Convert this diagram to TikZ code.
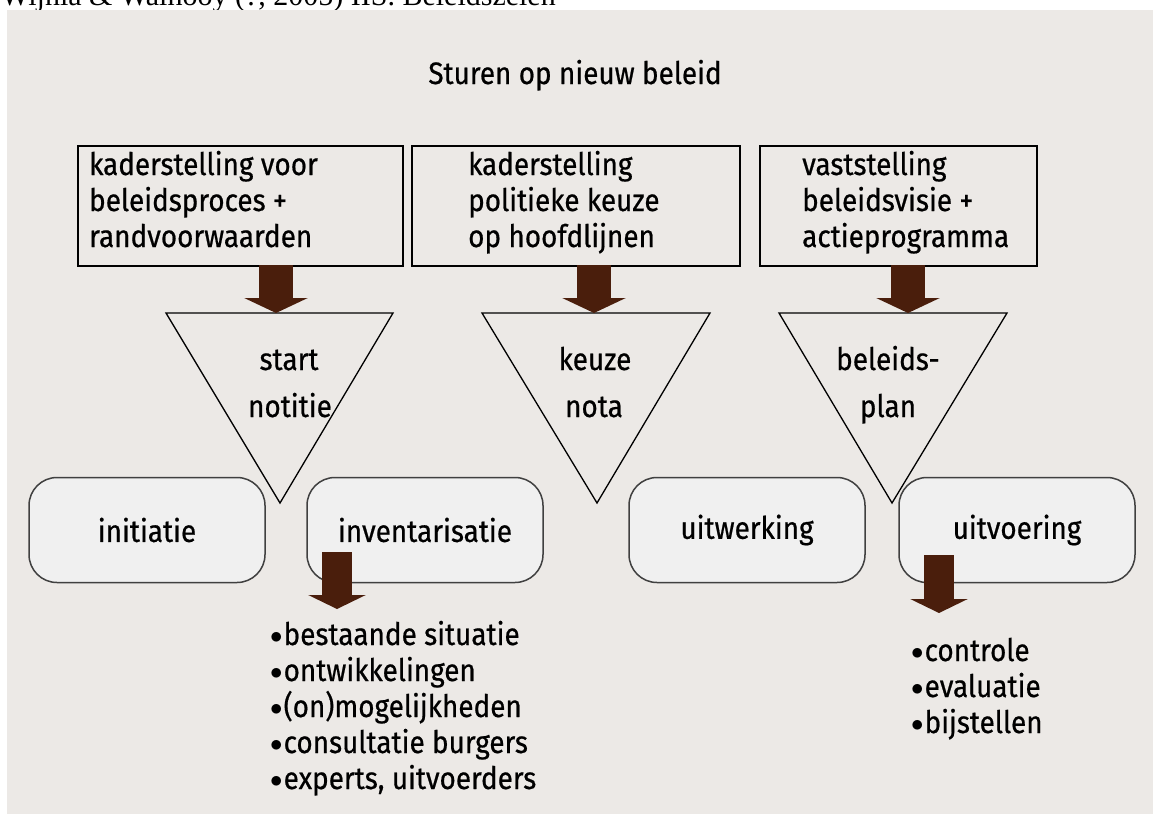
\documentclass[tikz,border=0pt]{standalone}
\usepackage{fontspec}
\setmainfont{Fira Sans}[FakeStretch=0.9, FakeBold=0.6]
\newfontfamily\headserif{Liberation Serif}
\usetikzlibrary{arrows.meta}

\definecolor{panelgray}{RGB}{236,233,230}
\definecolor{stagegray}{RGB}{240,240,240}
\definecolor{dropbrown}{RGB}{74,30,12}

\newcommand{\listdot}{\raisebox{2pt}{\fontsize{24}{24}\selectfont$\bullet$}\hspace{1pt}}

\begin{document}
\begin{tikzpicture}[x=1pt, y=-1pt,
    frame/.style={draw, line width=1.6pt, anchor=north west, inner sep=0},
    boxtext/.style={anchor=base west, inner sep=0, font=\fontsize{31}{36}\selectfont},
    funnel/.style={draw, line width=1.3pt},
    stage/.style={draw=black!75, line width=1.5pt, fill=stagegray, rounded corners=28pt,
        minimum width=236pt, minimum height=105pt, font=\fontsize{31}{36}\selectfont},
    bigarrow/.style={dropbrown, line width=34pt, -{Triangle[width=63pt,length=15pt]}},
    smallarrow/.style={dropbrown, line width=30pt, -{Triangle[width=57pt,length=14pt]}}]

    \useasboundingbox (0,0) rectangle (1153,814);

    % Source line (cut off by the panel)
    \node[anchor=base west, inner sep=0, font=\headserif\fontsize{30}{30}\selectfont] (source)
        at (1,5) {Wijnia \& Walhooy (?, 2005) IIS. Beleidszelen};
    \fill[panelgray] (7,10) rectangle (1153,814);

    % Title
    \node[anchor=base, inner sep=0, font=\fontsize{31}{36}\selectfont] (title) at (575,84) {Sturen op nieuw beleid};

    % Top boxes
    \node[frame, minimum width=325pt, minimum height=120pt] (frame1) at (77,145) {};
    \node[frame, minimum width=328pt, minimum height=120pt] (frame2) at (411,145) {};
    \node[frame, minimum width=277pt, minimum height=120pt] (frame3) at (759,145) {};
    \foreach \txt [count=\j] in {kaderstelling voor, beleidsproces +, randvoorwaarden}
        \node[boxtext] (frame1-\j) at (89, {139+36*\j}) {\txt};
    \foreach \txt [count=\j] in {kaderstelling, politieke keuze, op hoofdlijnen}
        \node[boxtext] (frame2-\j) at (468, {139+36*\j}) {\txt};
    \foreach \txt [count=\j] in {vaststelling, beleidsvisie +, actieprogramma}
        \node[boxtext] (frame3-\j) at (802, {139+36*\j}) {\txt};

    % Funnels
    \foreach \l/\r/\a [count=\i] in {166/393/280, 482/710/597, 779/1007/892}{
        \draw[funnel] (\l,313) coordinate (tri\i-l) -- (\r,313) -- (\a,503) coordinate (tri\i-apex) -- cycle;
    }
    \node[anchor=base, inner sep=0, font=\fontsize{31}{36}\selectfont] (start) at (289,370) {start};
    \node[anchor=base, inner sep=0, font=\fontsize{31}{36}\selectfont] (notitie) at (290,417) {notitie};
    \node[anchor=base, inner sep=0, font=\fontsize{31}{36}\selectfont] (keuze) at (595,370) {keuze};
    \node[anchor=base, inner sep=0, font=\fontsize{31}{36}\selectfont] (nota) at (594,417) {nota};
    \node[anchor=base, inner sep=0, font=\fontsize{31}{36}\selectfont] (beleids) at (888,370) {beleids-};
    \node[anchor=base, inner sep=0, font=\fontsize{31}{36}\selectfont] (plan) at (888,417) {plan};

    % Drops from boxes into funnels
    \foreach \x [count=\i] in {276, 594, 908}{
        \coordinate (drop\i) at (\x,265);
        \draw[bigarrow] (drop\i) -- (drop\i |- tri\i-l);
    }

    % Stages
    \foreach \name/\x in {initiatie/147, inventarisatie/425, uitwerking/747, uitvoering/1017}
        \node[stage] (\name) at (\x,530) {\name};

    % Lists under stages
    \coordinate (inv-drop) at (337,552);
    \coordinate (inv-end) at (337,609);
    \draw[smallarrow] (inv-drop) -- (inv-end);
    \coordinate (uitv-drop) at (939,555);
    \coordinate (uitv-end) at (939,613);
    \draw[smallarrow] (uitv-drop) -- (uitv-end);

    \foreach \txt [count=\j] in {bestaande situatie, ontwikkelingen, (on)mogelijkheden, consultatie burgers, {experts, uitvoerders}}
        \node[boxtext] (inv-\j) at (270, {609+36*\j}) {\listdot\txt};
    \foreach \txt [count=\j] in {controle, evaluatie, bijstellen}
        \node[boxtext] (uitv-\j) at (911, {625+36*\j}) {\listdot\txt};
\end{tikzpicture}
\end{document}
